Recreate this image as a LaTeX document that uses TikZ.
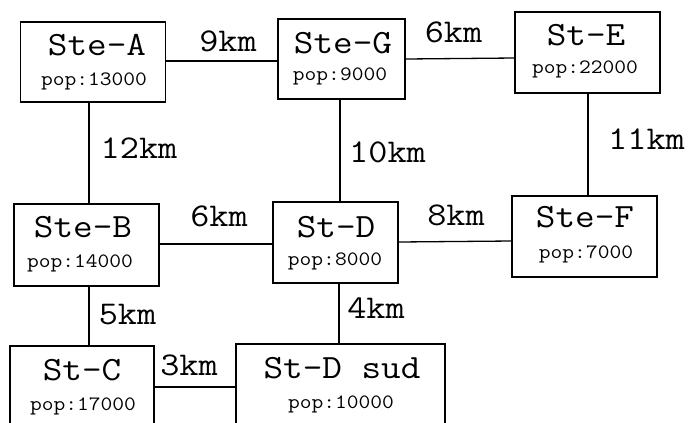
\documentclass[tikz,border=0pt]{standalone}
\usepackage{fontspec}
\newfontfamily\courf[FakeStretch=1.12]{Latin Modern Mono}
\begin{document}
\begin{tikzpicture}[x=1bp,y=-1bp,
  box/.style={draw,line width=1.3bp,inner sep=0pt,rectangle},
  nm/.style={anchor=base,inner sep=0pt,font=\courf\fontsize{34bp}{34bp}\selectfont},
  pp/.style={anchor=base,inner sep=0pt,font=\courf\fontsize{20.4bp}{20.4bp}\selectfont},
  lb/.style={anchor=base,inner sep=0pt,font=\courf\fontsize{33.2bp}{33.2bp}\selectfont},
  ln/.style={line width=1.3bp}]
\clip (0,0) rectangle (690,422);
\fill[white] (0,0) rectangle (690,422);
% boxes
\node[box,minimum width=145bp,minimum height=80bp] (A) at (93.2,62) {};
\node[box,minimum width=127bp,minimum height=80bp] (G) at (341.5,59) {};
\node[box,minimum width=145bp,minimum height=81bp] (E) at (587.5,52.5) {};
\node[box,minimum width=145bp,minimum height=82bp] (B) at (86.5,245) {};
\node[box,minimum width=125bp,minimum height=81bp] (D) at (335.5,242.5) {};
\node[box,minimum width=145bp,minimum height=81bp] (F) at (584.5,236.5) {};
\node[box,minimum width=144bp,minimum height=94bp] (C) at (82,393) {};
\node[box,minimum width=209bp,minimum height=96bp] (S) at (340.5,392) {};
% texts
\node[nm] (An) at (97,55) {Ste-A};
\node[pp] (Ap) at (94,85) {pop:13000};
\node[nm] (Gn) at (343,53) {Ste-G};
\node[pp] (Gp) at (340,80) {pop:9000};
\node[nm] (En) at (586,45) {St-E};
\node[pp] (Ep) at (585,73) {pop:22000};
\node[nm] (Bn) at (83,237) {Ste-B};
\node[pp] (Bp) at (80,267) {pop:14000};
\node[nm] (Dn) at (336,237) {St-D};
\node[pp] (Dp) at (335,265) {pop:8000};
\node[nm] (Fn) at (585,227) {Ste-F};
\node[pp] (Fp) at (586,258) {pop:7000};
\node[nm] (Cn) at (82,380) {St-C};
\node[pp] (Cp) at (83,410) {pop:17000};
\node[nm] (Sn) at (342,378) {St-D sud};
\node[pp] (Sp) at (341,408) {pop:10000};
% connectors
\draw[ln] (A.east |- 0,61) -- (G.west |- 0,61);
\draw[ln] (G.east |- 0,59) -- (E.west |- 0,58);
\draw[ln] (A.south -| 89,0) -- (B.north -| 89,0);
\draw[ln] (G.south -| 340,0) -- (D.north -| 340,0);
\draw[ln] (E.south -| 588,0) -- (F.north -| 588,0);
\draw[ln] (B.east |- 0,244) -- (D.west |- 0,244);
\draw[ln] (D.east |- 0,242) -- (F.west |- 0,241);
\draw[ln] (B.south -| 89,0) -- (C.north -| 89,0);
\draw[ln] (D.south -| 339,0) -- (S.north -| 339,0);
\draw[ln] (C.east |- 0,387) -- (S.west |- 0,387);
% labels
\node[lb] (l1) at (228,51) {9km};
\node[lb] (l2) at (453.5,42) {6km};
\node[lb] (l3) at (139,158) {12km};
\node[lb] (l4) at (387.5,162) {10km};
\node[lb] (l5) at (646.5,149) {11km};
\node[lb] (l6) at (219,226) {6km};
\node[lb] (l7) at (456,225) {8km};
\node[lb] (l8) at (127.5,324) {5km};
\node[lb] (l9) at (376,318) {4km};
\node[lb] (l10) at (189,375) {3km};
\end{tikzpicture}
\end{document}
